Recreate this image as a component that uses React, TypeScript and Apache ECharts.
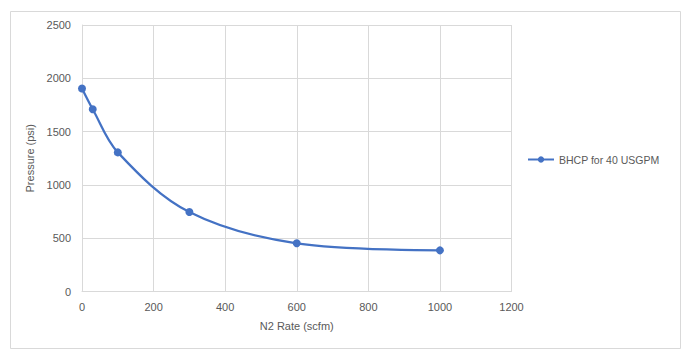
import React, { useEffect, useRef } from "react";
import * as echarts from "echarts";

const seriesName = "BHCP for 40 USGPM";
const n2Rate = [0, 30, 100, 300, 600, 1000];
const pressure = [1905, 1710, 1305, 745, 452, 386];

const xTitle = "N2 Rate (scfm)";
const yTitle = "Pressure (psi)";

const FONT = "'Liberation Sans', Arial, sans-serif";
const TXT = "#595959";
const GRID = "#d9d9d9";
const BLUE = "#4472C4";

export default function App() {
  const ref = useRef<HTMLDivElement>(null);
  useEffect(() => {
    if (!ref.current) return;
    const chart = echarts.init(ref.current, undefined, { renderer: "svg" });
    chart.setOption({
      animation: false,
      backgroundColor: "#ffffff",
      textStyle: { fontFamily: FONT },
      graphic: [
        {
          type: "rect",
          shape: { x: 10.5, y: 11.5, width: 670, height: 337 },
          style: { fill: "none", stroke: GRID, lineWidth: 1 },
          silent: true,
        },
      ],
      grid: { left: 82, top: 25, right: 183.5, bottom: 69.5, containLabel: false },
      legend: {
        left: 522,
        top: 149,
        itemWidth: 26,
        itemHeight: 8,
        itemGap: 4,
        textStyle: { color: TXT, fontSize: 10.5, fontFamily: FONT },
        data: [{ name: seriesName }],
      },
      xAxis: {
        type: "value",
        min: 0,
        max: 1200,
        interval: 200,
        name: xTitle,
        nameLocation: "middle",
        nameGap: 29,
        nameTextStyle: { color: TXT, fontSize: 11, fontFamily: FONT },
        axisLine: { show: true, lineStyle: { color: GRID } },
        axisTick: { show: false },
        axisLabel: { color: TXT, fontSize: 11, fontFamily: FONT, margin: 10, formatter: (v: number) => String(v) },
        splitLine: { show: true, lineStyle: { color: GRID } },
      },
      yAxis: {
        type: "value",
        min: 0,
        max: 2500,
        interval: 500,
        name: yTitle,
        nameLocation: "middle",
        nameGap: 34,
        nameRotate: 90,
        nameTextStyle: { color: TXT, fontSize: 11, fontFamily: FONT },
        axisLine: { show: true, lineStyle: { color: GRID } },
        axisTick: { show: false },
        axisLabel: { color: TXT, fontSize: 11, fontFamily: FONT, margin: 11, formatter: (v: number) => String(v) },
        splitLine: { show: true, lineStyle: { color: GRID } },
      },
      series: [
        {
          name: seriesName,
          type: "line",
          data: n2Rate.map((x, i) => [x, pressure[i]]),
          smooth: 0.35,
          symbol: "circle",
          symbolSize: 8,
          itemStyle: { color: BLUE },
          lineStyle: { color: BLUE, width: 2.25 },
        },
      ],
    });
    return () => chart.dispose();
  }, []);
  return (
    <div
      ref={ref}
      style={{ position: "absolute", left: 0, top: 0, width: 695, height: 361 }}
    />
  );
}
